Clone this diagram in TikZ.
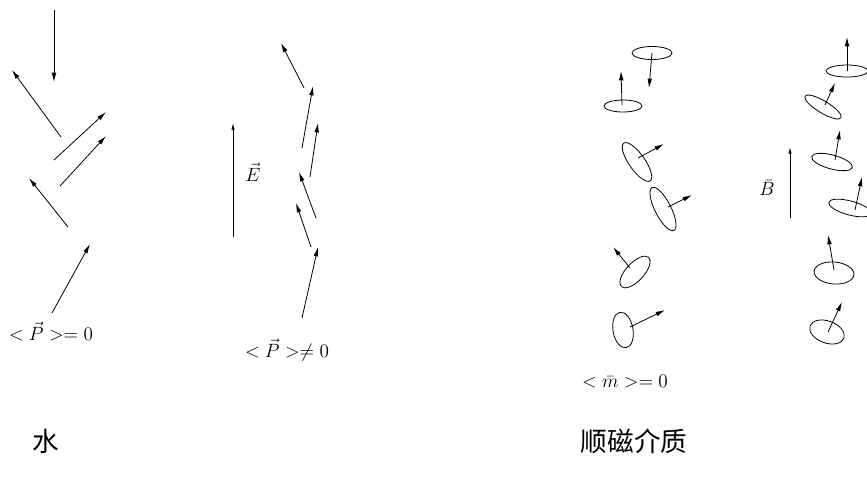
\documentclass[tikz,border=0pt]{standalone}
\usepackage{fontspec}
\newfontfamily\cjk{Noto Sans CJK SC}
\usetikzlibrary{arrows.meta}

\begin{document}
\begin{tikzpicture}[x=0.75pt, y=-0.75pt,
   dip/.style={-{Latex[length=7pt,width=3.5pt]}, line width=0.6pt},
   field/.style={-{Latex[length=5pt,width=2.5pt]}, line width=0.6pt},
   orbit/.style={line width=0.6pt},
   lab/.style={font=\fontsize{15}{17}\selectfont, inner sep=0pt},
   title/.style={font=\cjk\fontsize{20}{24}\selectfont, inner sep=0pt}]
   \clip (0,0) rectangle (867,480);

   % water, no field
   \draw[dip] (54,10) -- (54,82);
   \draw[dip] (61,137) -- (12,70);
   \draw[dip] (54,160) -- (106,112);
   \draw[dip] (60,186) -- (106,136);
   \draw[dip] (68,227) -- (29,178);
   \draw[dip] (52,313) -- (90,244);
   \node (pzero) at (51,331) [lab] {$<\vec{P}>=0$};

   % water in the field E
   \draw[field] (233,237) -- (233,123);
   \node (efield) at (253,172) [lab] {$\vec{E}$};
   \draw[dip] (304,88) -- (281,43);
   \draw[dip] (302,148) -- (313,86);
   \draw[dip] (310,177) -- (318,123);
   \draw[dip] (316,218) -- (299,172);
   \draw[dip] (311,247) -- (296,203);
   \draw[dip] (302,318) -- (318,247);
   \node (pnonzero) at (287,350) [lab] {$<\vec{P}>\neq 0$};

   % paramagnetic, no field
   \draw[orbit] (652,53) ellipse [x radius=20, y radius=6.5];
   \draw[dip] (652,53) -- (649,88);
   \draw[orbit] (623,106) ellipse [x radius=19, y radius=6];
   \draw[dip] (622,105) -- (621,71);
   \draw[orbit, rotate around={-55:(637,162)}] (637,162) ellipse [x radius=23, y radius=8];
   \draw[dip] (638,158) -- (664,144);
   \draw[orbit, rotate around={-63:(663,209)}] (663,209) ellipse [x radius=24, y radius=8];
   \draw[dip] (668,207) -- (692,195);
   \draw[orbit, rotate around={47:(635,272)}] (635,272) ellipse [x radius=20, y radius=9];
   \draw[dip] (630,268) -- (613,247);
   \draw[orbit, rotate around={10:(623,330)}] (623,330) ellipse [x radius=10, y radius=18];
   \draw[dip] (630,327) -- (665,310);
   \node (mzero) at (625,382) [lab] {$<\bar{m}>=0$};

   % paramagnetic in the field B
   \draw[field] (790,218) -- (790,147);
   \node (bfield) at (767,188) [lab] {$\bar{B}$};
   \draw[orbit] (847,71) ellipse [x radius=21, y radius=6];
   \draw[dip] (847,71) -- (847,37);
   \draw[orbit, rotate around={-31:(823,107)}] (823,107) ellipse [x radius=21, y radius=6];
   \draw[dip] (825,105) -- (835,83);
   \draw[orbit, rotate around={-15:(832,162)}] (832,162) ellipse [x radius=21, y radius=7];
   \draw[dip] (835,160) -- (840,130);
   \draw[orbit, rotate around={-15:(850,208)}] (850,208) ellipse [x radius=22, y radius=7];
   \draw[dip] (855,210) -- (862,177);
   \draw[orbit, rotate around={-5:(834,273)}] (834,273) ellipse [x radius=20, y radius=11];
   \draw[dip] (834,270) -- (828,235);
   \draw[orbit, rotate around={-20:(827,332)}] (827,332) ellipse [x radius=18, y radius=11];
   \draw[dip] (828,332) -- (842,302);

   \node (water) at (46,441) [title] {水};
   \node (para) at (634,441) [title] {顺磁介质};
\end{tikzpicture}
\end{document}
